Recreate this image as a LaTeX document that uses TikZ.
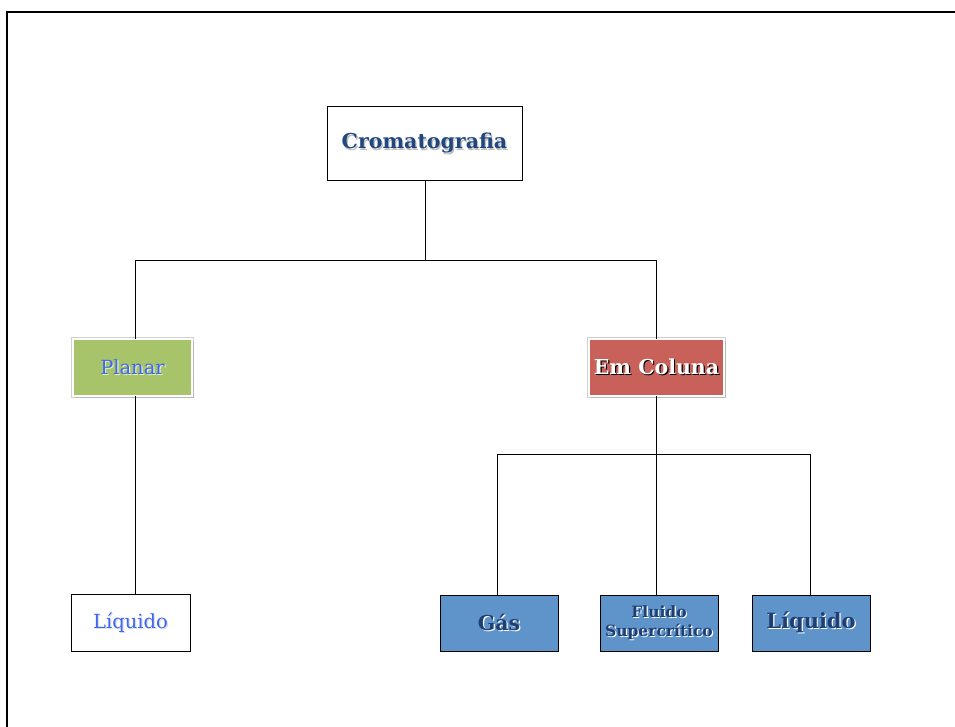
\documentclass[tikz,border=0pt]{standalone}
\usepackage{fontspec}
\setmainfont{DejaVu Serif}
\usetikzlibrary{shadows}
\definecolor{titleblue}{HTML}{22477F}
\definecolor{lightblue}{HTML}{3F66F0}
\definecolor{planargreen}{HTML}{A8C46A}
\definecolor{colred}{HTML}{C9615B}
\definecolor{boxblue}{HTML}{5E94CA}
\definecolor{darkblue}{HTML}{1F3F73}
\newcommand{\shad}[2]{\leavevmode\rlap{\kern1.2pt\raisebox{-1.2pt}{\color{#1}#2}}#2}
\tikzset{
  every node/.style={inner sep=0pt, outer sep=0pt},
  whitebox/.style={draw=black, line width=1pt, fill=white, minimum width=#1, minimum height=57pt},
  colbox/.style={draw=white, line width=2.5pt, preaction={draw=black!18, line width=4.5pt},
     drop shadow={opacity=0.3, shadow xshift=1.5pt, shadow yshift=-2pt}, minimum width=#1, minimum height=57pt},
  bluebox/.style={draw=black, line width=1pt, fill=boxblue, minimum width=118pt, minimum height=56pt, align=center},
  conn/.style={draw=black, line width=0.9pt},
}
\begin{document}
\begin{tikzpicture}[x=1pt,y=-1pt]
\useasboundingbox (0,0) rectangle (955,727);
% outer frame
\draw[line width=2.5pt] (7,800) -- (7,12) -- (1000,12);
% nodes
\node[whitebox=195pt, minimum height=74pt, font=\bfseries\fontsize{20.5}{24}\selectfont, text=titleblue] (crom) at (424.5,144) {\shad{black!25}{Cromatografia}};
\node[colbox=119pt, fill=planargreen, font=\fontsize{19.5}{22}\selectfont, text=lightblue] (planar) at (132.5,367.5) {\shad{white!70!planargreen}{Planar}};
\node[colbox=135pt, fill=colred, font=\bfseries\fontsize{20.5}{24}\selectfont, text=white] (coluna) at (656.5,367.5) {\shad{black}{Em Coluna}};
\node[whitebox=119pt, font=\fontsize{19.5}{22}\selectfont, text=lightblue] (liqA) at (130.5,623) {\shad{black!12}{Líquido}};
\node[bluebox, font=\bfseries\fontsize{20.5}{24}\selectfont, text=darkblue] (gas) at (499,623) {\shad{white}{Gás}};
\node[bluebox, font=\bfseries\fontsize{15.5}{19}\selectfont, text=darkblue] (fluido) at (659,623) {\shad{white}{Fluido}\\\shad{white}{Supercrítico}};
\node[bluebox, font=\bfseries\fontsize{21}{24}\selectfont, text=darkblue] (liqB) at (811,623) {\shad{white}{Líquido}};
% connectors
\coordinate (j1) at (425,260);
\coordinate (j2) at (656,454);
\coordinate (jl) at (135,260);
\coordinate (jr) at (656,260);
\coordinate (kl) at (497,454);
\coordinate (kr) at (810,454);
\draw[conn] (crom.south -| j1) -- (j1);
\draw[conn] (jl) -- (jr);
\draw[conn] (jl) -- (jl |- planar.north);
\draw[conn] (jr) -- (coluna.north -| jr);
\draw[conn] (planar.south -| jl) -- (liqA.north -| jl);
\draw[conn] (coluna.south -| j2) -- (fluido.north -| j2);
\draw[conn] (kl) -- (kr);
\draw[conn] (kl) -- (gas.north -| kl);
\draw[conn] (kr) -- (liqB.north -| kr);
\end{tikzpicture}
\end{document}
